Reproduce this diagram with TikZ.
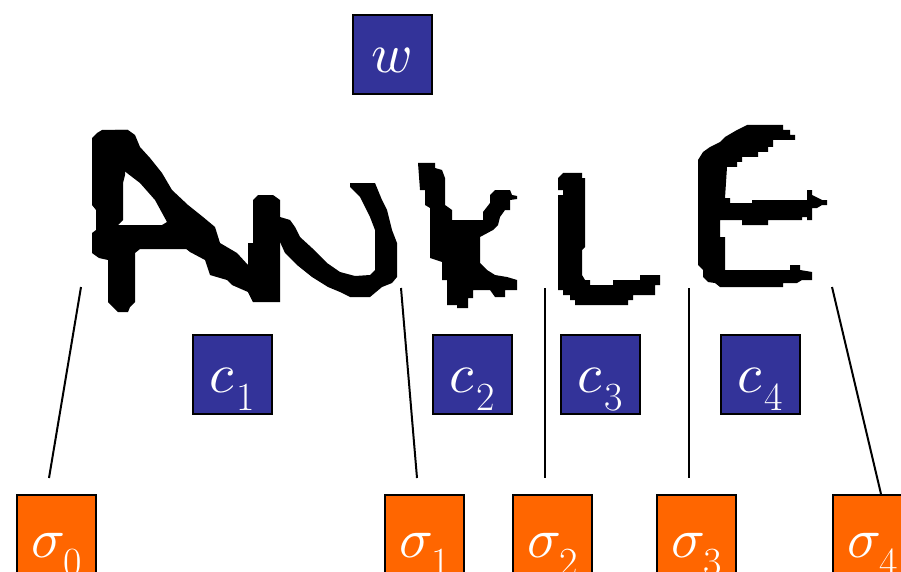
\documentclass[tikz,border=0pt]{standalone}
\usepackage{graphicx}
\definecolor{boxblue}{HTML}{333399}
\definecolor{boxorange}{HTML}{FF6600}
% large italic symbol, followed by a lowered upright index digit
\newcommand\bigsym[1]{\scalebox{5.6}{$#1$}}
\newcommand\lowidx[2][3pt]{\kern#1\raisebox{-18pt}{\fontsize{40}{40}\selectfont\upshape #2}}
\begin{document}
\begin{tikzpicture}[x=1pt,y=-1pt,
  box/.style={draw=black,line width=2pt,minimum width=79pt,minimum height=79pt,inner sep=0pt},
  bluebox/.style={box,fill=boxblue},
  orangebox/.style={box,fill=boxorange},
  lbl/.style={anchor=base,text=white,inner sep=0pt},
  ink/.style={fill=black,draw=none},
  tick/.style={line width=2pt,draw=black}]
\useasboundingbox (0,0) rectangle (901,572);
\clip (0,0) rectangle (901,572);

% ---------- handwritten word ----------
% A: stem and crossbar
\fill[ink] (102,130) -- (97,133) -- (92,138) -- (92,205) -- (96,210) -- (96,230) -- (92,233)
  -- (92,253) -- (99,258) -- (108,260) -- (108,302) -- (113,307) -- (118,312) -- (128,312)
  -- (130,307) -- (135,302) -- (135,253) -- (140,249) -- (188,249) -- (185,240) -- (167,222)
  -- (162,225) -- (118,225) -- (123,220) -- (123,183) -- (125,175) -- (128,130) -- cycle;
% A: diagonal running into N
\fill[ink] (115,130) -- (128,130) -- (135,135) -- (140,147) -- (150,158) -- (162,173) -- (172,190)
  -- (188,205) -- (203,217) -- (215,227) -- (220,243) -- (237,253) -- (248,265) -- (253,280)
  -- (253,302) -- (248,292) -- (232,285) -- (227,280) -- (210,275) -- (205,260) -- (190,252)
  -- (175,240) -- (167,222) -- (155,200) -- (140,183) -- (123,170) -- cycle;
% N: first stem
\fill[ink] (253,200) -- (258,195) -- (273,195) -- (280,200) -- (280,302) -- (253,302) -- (248,292)
  -- (248,243) -- (253,243) -- cycle;
% N: diagonal, bowl and last stroke
\fill[ink] (280,217) -- (290,220) -- (295,227) -- (300,237) -- (312,248) -- (327,263) -- (340,272)
  -- (355,276) -- (370,275) -- (375,270) -- (375,230) -- (370,217) -- (365,207) -- (360,197)
  -- (350,187) -- (350,183) -- (375,183) -- (382,200) -- (387,210) -- (392,230) -- (397,243)
  -- (397,277) -- (392,283) -- (382,287) -- (370,297) -- (350,297) -- (340,292) -- (328,287)
  -- (312,277) -- (297,265) -- (285,253) -- (280,242) -- cycle;
% K
\fill[ink] (418,163) -- (435,163) -- (435,168) -- (442,170) -- (445,178) -- (445,205) -- (452,210)
  -- (452,220) -- (483,220) -- (483,212) -- (490,203) -- (490,195) -- (495,190) -- (510,190)
  -- (512,195) -- (517,196) -- (517,199) -- (510,200) -- (510,210) -- (505,210) -- (500,217)
  -- (498,225) -- (493,230) -- (480,237) -- (480,263) -- (487,270) -- (495,275) -- (507,277)
  -- (517,280) -- (517,290) -- (505,290) -- (505,297) -- (495,297) -- (490,290) -- (473,290)
  -- (473,298) -- (468,298) -- (468,308) -- (457,308) -- (457,305) -- (447,305) -- (447,280)
  -- (442,280) -- (442,262) -- (430,258) -- (430,208) -- (425,205) -- (425,190) -- (420,190) -- cycle;
% L
\fill[ink] (563,173) -- (582,173) -- (582,178) -- (585,178) -- (585,247) -- (582,250) -- (582,275)
  -- (585,280) -- (590,280) -- (590,285) -- (613,285) -- (613,280) -- (640,280) -- (640,275)
  -- (660,275) -- (660,285) -- (655,285) -- (655,295) -- (633,295) -- (633,300) -- (628,300)
  -- (628,305) -- (575,305) -- (575,300) -- (570,300) -- (570,295) -- (563,295) -- (563,290)
  -- (558,290) -- (558,195) -- (563,195) -- (563,190) -- (558,190) -- (558,178) -- cycle;
% E
\fill[ink] (747,125) -- (783,125) -- (783,130) -- (790,130) -- (790,135) -- (795,135) -- (795,140)
  -- (773,140) -- (773,147) -- (768,147) -- (768,152) -- (758,152) -- (758,157) -- (742,157)
  -- (742,162) -- (737,162) -- (737,167) -- (727,167) -- (725,198) -- (730,198) -- (730,203)
  -- (752,203) -- (752,200) -- (807,200) -- (807,190) -- (812,190) -- (812,195) -- (822,200)
  -- (827,200) -- (827,205) -- (822,205) -- (817,208) -- (812,208) -- (812,220) -- (807,220)
  -- (807,217) -- (802,217) -- (802,220) -- (768,220) -- (768,225) -- (742,225) -- (742,220)
  -- (720,220) -- (720,237) -- (725,237) -- (725,270) -- (790,270) -- (790,265) -- (800,265)
  -- (800,270) -- (812,272) -- (812,280) -- (802,280) -- (797,283) -- (783,283) -- (783,287)
  -- (720,287) -- (715,283) -- (708,282) -- (703,277) -- (703,270) -- (698,265) -- (698,160)
  -- (703,152) -- (710,147) -- (720,142) -- (725,137) -- (737,130) -- cycle;

% ---------- boxes ----------
\node[bluebox] (w)  at (392.5,55) {};
\node[bluebox] (c1) at (232.5,374.5) {};
\node[bluebox] (c2) at (472.5,374.5) {};
\node[bluebox] (c3) at (600.5,374.5) {};
\node[bluebox] (c4) at (760.5,374.5) {};
\node[orangebox] (s0) at (56.5,534.5) {};
\node[orangebox] (s1) at (424.5,534.5) {};
\node[orangebox] (s2) at (552.5,534.5) {};
\node[orangebox] (s3) at (696.5,534.5) {};
\node[orangebox] (s4) at (872.5,534.5) {};

% ---------- labels ----------
\node[lbl] (lw)  at ([yshift=-18pt]w.center)  {\bigsym{w}};
\node[lbl] (lc1) at ([yshift=-18pt]c1.center) {\bigsym{c}\lowidx{1}};
\node[lbl] (lc2) at ([yshift=-18pt]c2.center) {\bigsym{c}\lowidx{2}};
\node[lbl] (lc3) at ([yshift=-18pt]c3.center) {\bigsym{c}\lowidx{3}};
\node[lbl] (lc4) at ([yshift=-18pt]c4.center) {\bigsym{c}\lowidx{4}};
\node[lbl] (ls0) at ([yshift=-23pt]s0.center) {\bigsym{\sigma}\lowidx[-2pt]{0}};
\node[lbl] (ls1) at ([yshift=-23pt]s1.center) {\bigsym{\sigma}\lowidx[-2pt]{1}};
\node[lbl] (ls2) at ([yshift=-23pt]s2.center) {\bigsym{\sigma}\lowidx[-2pt]{2}};
\node[lbl] (ls3) at ([yshift=-23pt]s3.center) {\bigsym{\sigma}\lowidx[-2pt]{3}};
\node[lbl] (ls4) at ([yshift=-23pt]s4.center) {\bigsym{\sigma}\lowidx[-2pt]{4}};

% ---------- segmentation cuts ----------
\coordinate (t0) at (81,287);  \coordinate (b0) at (49,478);
\coordinate (t1) at (401,288); \coordinate (b1) at (417,478);
\coordinate (t2) at (545,288); \coordinate (b2) at (545,478);
\coordinate (t3) at (689,288); \coordinate (b3) at (689,478);
\coordinate (t4) at (832,287); \coordinate (b4) at (881,494);
\draw[tick] (t0) -- (b0);
\draw[tick] (t1) -- (b1);
\draw[tick] (t2) -- (b2);
\draw[tick] (t3) -- (b3);
\draw[tick] (t4) -- (b4);
\end{tikzpicture}
\end{document}
